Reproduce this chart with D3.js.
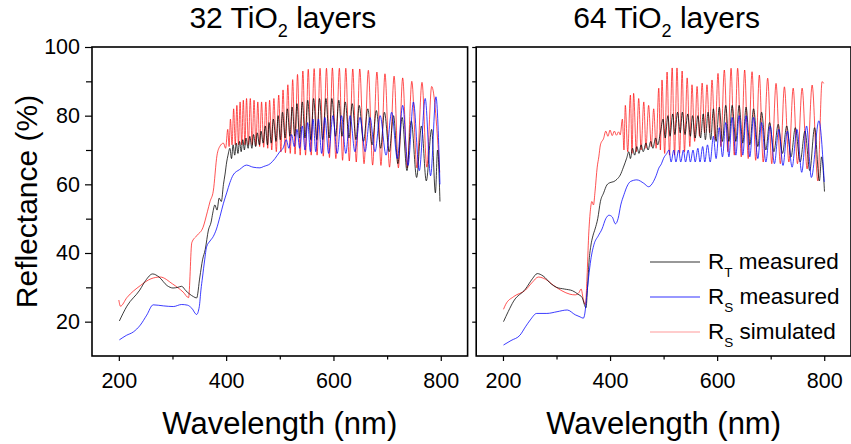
<!DOCTYPE html>
<html>
<head>
<meta charset="utf-8">
<script src="https://cdn.jsdelivr.net/npm/d3@7"></script>
<style>
  body { margin: 0; background: #fff; }
  text { font-family: "Liberation Sans", Arial, sans-serif; fill: #000; }
</style>
</head>
<body>
<div id="chart"></div>
<script>
// panel titles, legend and tick values
var panelTitles = ["32", "64"];
var legendNames = [["R", "T", " measured"], ["R", "S", " measured"], ["R", "S", " simulated"]];
var seriesColors = ["#000000", "#0000ff", "#ff0000"];
var xMajor = [200, 400, 600, 800];
var xMinor = [300, 500, 700];
var yMajor = [20, 40, 60, 80, 100];
var yMinor = [30, 50, 70, 90];

// 32 layers - [wavelength nm, reflectance %]
var rtMeas32 = [[201,20.2],[215,24.5],[239,29.2],[250,32],[263,33.9],[275,33],[290,30.5],[301,29.8],[310,30],[317,30.3],[325,29],[339,27.3],[345,26.9],[351,33],[356,38],[361,41],[367,46.7],[372,49],[375,51.6],[379,54],[383,52.5],[387,56],[391,55],[395,60],[398,63],[401,66.5],[403.5,68.5],
  [407,70.5],[410,67.5],[413,71.5],[416,68.5],[419,72],[422,69],[425,72.5],[428,69.5],[431,73],[434,70],[437,73.5],[441,70.5],[444,74],[448,70.5],[451,74.5],[455,71],[458,75],[462,71.5],[465,75.5],[469,72],
  [473,77],[477,71.5],[480,78],[484,72],[488,79],[493,72.5],[497,80],[501,73],[505,81],[510,73.5],[514,82],[519,74],[523,82.5],[528,74],
  [532,83.5],[537,73.5],[542,84],[547,73.5],[552,84.5],[558,73],[563,85],[569,73],[574,85],[580,73],[586,85],[592,73.5],
  [597,85],[604,74],[610,84.5],[616,74],[622,84],[629,73.5],[635,83.5],[642,73],[648,83],[656,72.5],
  [664,82],[672,71.5],[680,81.5],[688,70.5],[695,81],[704,69.5],[712,80],[720,66],[728,79.5],[737,64],[745,78.5],[755,62],
  [764,77],[773,61],[783,76],[790,57.5],[794,70],[798.5,55]];

var rsMeas32 = [[201,14.7],[214,16],[227,17],[240,19],[252,21.9],[264,24.9],[283,24.6],[301.5,24.4],[317,25],[328,24.8],[336,23.9],[345,22.1],[350,24.4],[353,29.2],[356,33],[360,38],[363.6,41.8],[370,43.5],[376,44.8],[382,47],[388.5,50.6],[395,54.5],[401,57.5],[407,60.5],[413,62.7],[425,64.3],[438,65.6],[450,65],[463,64.8],[470,65.2],[482,66],[491,67.5],[500,69.5],[506,70.5],
  [512,73],[517,70.5],[522,74.5],[527,71],[532,76],[537,70.5],[542,77],[547,70],[552,78],[557,69.5],[562,79],[567,69.5],[572,79],[578,69],[584,79.5],[591,69],
  [599,80],[607,69],[615,80],[623,69],[631,80],[640,69.5],[649.5,79.5],[659,69.5],[668,79.5],[677.5,69.5],[687,80],[698,68.5],[708.5,81],[719,67.5],
  [729,83],[739,65.5],[749,84],[760,64],[771,85],[781,62.5],[791,85.5],[798.5,60]];

var rsSim32 = [[200,26.3],[203,24.5],[215,27],[240,30.5],[260,32.5],[277,33],[300,31],[320,28.6],[330,27],[336,43],[345,45],[357,47.5],[365,52],[370,55],[376,58],[383,68.5],[388,71],[395,72],[399,70.5],
  [403,76],[405.5,71],[408,79],[411,71.5],[414,82],[417,71.5],[420,83],[423,71.5],[426,84],[429,71.5],[432,84.5],[435,71.5],[438,85],[441.5,71.5],[445,85],[448.5,71.5],[452,84.5],[455.5,71.3],[459,84],[462.5,71],
  [466,84],[470,70.8],[474,84],[477.5,70.5],[481,84.5],[485,70],[489,85],[493.5,69.5],[498,86],[502,69.4],[506,87.5],[510.5,69.2],[515,89],[519.5,69],[524,90.5],[528.5,68.8],[533,92],[538,68.5],
  [543,93],[548,68.5],[553,93.5],[558.5,68.5],[564,93.7],[569.5,68.5],[575,93.8],[581,68.2],[587,93.8],[592.5,67.8],[598,93.9],[604.5,67.5],[611,93.8],[617,67],[623,93.8],[629.5,66.8],
  [636,93.6],[642.5,66.5],[649,93.6],[657,66],[665,93.2],[673,65.6],[681,92.7],[688.5,65.5],[696,92.2],[704.5,65],[713,91.5],[721,64.8],[729,91],[737.5,64.8],[746,90],[755.5,64.8],
  [765,89.7],[774,65],[783,88.5],[798,63.5]];

// 64 layers
var rtMeas64 = [[201,20],[210,23],[220,26],[242,29.5],[255,32.5],[264,34],[275,33.3],[290,31],[300,30],[315,29.5],[330,29],[340,28],[348,27],[352,25],[355,24],[358,30],[361,38],[364,42],[368,45],[372,47],[377,50],[382,55],[388,57.5],[394,59.8],[400,60.5],[407,60.8],[413,61.5],[419,62.7],[425,65],
  [431,67.6],[435,69.5],[438,67.5],[442,70.5],[446,68.5],[450,71],[454,69],[458,71.5],[462,69.5],[467,72],[471,70],[476,72.5],[480,70.5],[485,73.5],[489,71.5],[494,75],
  [499,79],[503,73.5],[508,80],[512,74],[517,80.5],[521,74.5],[526,81],[531,75],[535,81],[540,74.5],[545,80.5],[550,74],[554,80],[559,73.5],[564,80],[569,73.5],[574,80.5],[578,73],
  [583,81],[588,73],[593,82],[598,72.5],[604,82.5],[610,72.5],[616,83],[622,72.5],[628,83],[635,72.5],[641,83],[648,72],[654,82.5],[661,71.5],[668,82],[676,71],[683,81],[691,70],
  [698,78],[706,69.5],[714,77.5],[722,69],[730,77],[738,68],[746,76.5],[755,66.5],[764,75.5],[773,64],[782,76.5],[791,61],[795,68],[800.5,57.9]];

var rsMeas64 = [[201,13.2],[215,14.5],[232,16.1],[242,18.5],[251,20.5],[263,22.4],[282,22.4],[301,22.9],[320,23.4],[335,22],[344,21.4],[350,21],[353,22.5],[356,27],[360,33],[364,38],[370,42.5],[378,45],[385,47],[392,50],[398,51],[404,50.5],[410,48.5],[415,50],[420,54],[426,57],[432,59.5],[438,60.8],[450,61.3],[463,60.3],[472,59.3],[481,60.8],[486,62.5],[491,64.7],[496,66],[500,67.6],[506,69],
  [510,70],[514,66.5],[519,70],[523,66.5],[528,70],[532,66.5],[537,70],[541,66.5],[546,70],[550,66.5],[555,70],[559,66.5],[564,70.5],[568,66.5],[573,71],[577,66.5],[582,71.5],[587,66.5],
  [593,74],[598,67.5],[604,76.5],[610,68],[616,78],[622,68],[628,79.5],[635,68.5],[641,80],[648,68.5],[654,80],[661,68],[668,79.5],[676,67.5],[683,78],[691,66.5],
  [699,77],[707,66],[715,76],[723,65.5],[731,75.5],[740,65],[749,76],[758,63.5],[767,77],[776,62],[790,78.5],[800,60.7]];

var rsSim64 = [[201,23.6],[205,25],[220,27.3],[242,29.2],[255,31.5],[266,33],[280,32.3],[295,30.5],[310,29],[325,28],[335,27.8],[342,28.5],[346,29.5],[350,26.5],[354,25],[357,33],[360,45],[363,52],[366,55],[369,54],[372,58],[376,65],[379,68],[382,71.5],[388,73.4],[392,75.5],[396,74],[400,75.8],[404,74.2],[408,75.5],[412,74.3],[416,75.3],[419,74.4],
  [423,79],[426,70],[428.5,83],[433,69.5],[438,86],[441,69],[444,86.5],[449,69.5],[453.5,85],[458,70],[463,84],[467,70.5],[472,83],[477,71],[481.5,82],[486,70.5],
  [491,88],[494,70],[497,90.4],[502,69],[506.5,92.7],[511,68.5],[516,93.9],[520.5,68.5],[525,93.9],[530,69],[534.6,93],[539,69.5],[544,91],[549,71],[553,89],[558,72.5],
  [562.5,88.5],[567,74],[572,89.5],[576.5,75],[581,89],[586,75],[590.4,90.4],[596,73],[601.6,92.3],[607,71],[613.4,93.3],[620,69.5],[626,93.8],[632,68.5],[638.3,93.8],[645,68],
  [651.4,93.3],[658,67.5],[665.2,92.8],[672,67],[678.8,91.8],[686,66.5],[694.4,90.9],[702,66],[710,89.4],[718,66],[725.6,88.4],[734,66.5],[742,88],[750,66],[758.7,88],[768,64.5],
  [777.4,88.9],[788,61],[796,89.9],[799,89.4]];

var svgWidth = 851;
var svgHeight = 444;

var svg = d3.select("#chart")
  .append("svg")
  .attr("width", svgWidth)
  .attr("height", svgHeight);

var y = d3.scaleLinear().domain([10, 100]).range([356, 47]);

var panels = [
  { left: 92, right: 467.6, series: [rsSim32, rtMeas32, rsMeas32], labels: true },
  { left: 476.2, right: 851, series: [rsSim64, rtMeas64, rsMeas64], labels: false }
];
var drawOrder = [2, 0, 1]; // colour index for red, black, blue

panels.forEach(function(p, i) {
  var x = d3.scaleLinear().domain([150, 850]).range([p.left, p.right]);
  var g = svg.append("g");

  var line = d3.line()
    .x(d => x(d[0]))
    .y(d => y(d[1]))
    .curve(d3.curveMonotoneX);

  p.series.forEach(function(s, k) {
    g.append("path")
      .datum(s)
      .attr("d", line)
      .attr("fill", "none")
      .attr("stroke", seriesColors[drawOrder[k]])
      .attr("stroke-opacity", k == 0 ? 0.8 : 0.9)
      .attr("stroke-width", 0.85);
  });

  // frame
  g.append("rect")
    .attr("x", p.left)
    .attr("y", 47)
    .attr("width", p.right - p.left)
    .attr("height", 356 - 47)
    .attr("fill", "none")
    .attr("stroke", "#000")
    .attr("stroke-width", 1.6);

  // x axis
  var xAxis = g.append("g")
    .attr("transform", "translate(0,356)")
    .call(d3.axisBottom(x).tickValues(xMajor).tickSize(5).tickPadding(12));
  xAxis.append("g").call(d3.axisBottom(x).tickValues(xMinor).tickSize(3.5).tickFormat(""));
  xAxis.selectAll(".domain").remove();
  xAxis.selectAll("line").attr("stroke-width", 1.2);
  xAxis.selectAll("text")
    .attr("font-size", 21.5)
    .style("font-family", "'Liberation Sans', Arial, sans-serif");

  // y axis
  var yAxis = g.append("g")
    .attr("transform", `translate(${p.left},0)`)
    .call(d3.axisLeft(y).tickValues(yMajor).tickSize(p.labels ? 7 : 4).tickPadding(5)
      .tickFormat(p.labels ? d3.format("d") : ""));
  yAxis.append("g").call(d3.axisLeft(y).tickValues(yMinor).tickSize(p.labels ? 6 : 4).tickFormat(""));
  yAxis.selectAll(".domain").remove();
  yAxis.selectAll("line").attr("stroke-width", 1.2);
  yAxis.selectAll("text")
    .attr("font-size", 21.5)
    .style("font-family", "'Liberation Sans', Arial, sans-serif");

  // title
  var cx = (p.left + p.right) / 2;
  var t = svg.append("text")
    .attr("x", cx + 3)
    .attr("y", 28)
    .attr("text-anchor", "middle")
    .attr("font-size", 30);
  t.append("tspan").text(panelTitles[i] + " TiO");
  t.append("tspan").attr("font-size", 18).attr("dy", 9).text("2");
  t.append("tspan").attr("dy", -9).text(" layers");

  // x axis title
  svg.append("text")
    .attr("x", cx)
    .attr("y", 434)
    .attr("text-anchor", "middle")
    .attr("font-size", 31)
    .text("Wavelength (nm)");
});

// y axis title
svg.append("text")
  .attr("transform", "translate(37,201.5) rotate(-90)")
  .attr("text-anchor", "middle")
  .attr("font-size", 30)
  .text("Reflectance (%)");

// legend
var legendRows = [262, 297, 332];
legendNames.forEach(function(n, i) {
  svg.append("line")
    .attr("x1", 650).attr("x2", 700)
    .attr("y1", legendRows[i]).attr("y2", legendRows[i])
    .attr("stroke", seriesColors[i])
    .attr("stroke-width", 0.9)
    .attr("stroke-opacity", i == 2 ? 0.45 : 0.9);
  var lt = svg.append("text")
    .attr("x", 708)
    .attr("y", legendRows[i] + 6.5)
    .attr("font-size", 22.5);
  lt.append("tspan").text(n[0]);
  lt.append("tspan").attr("font-size", 13.5).attr("dy", 8).text(n[1]);
  lt.append("tspan").attr("dy", -8).text(n[2]);
});
</script>
</body>
</html>
